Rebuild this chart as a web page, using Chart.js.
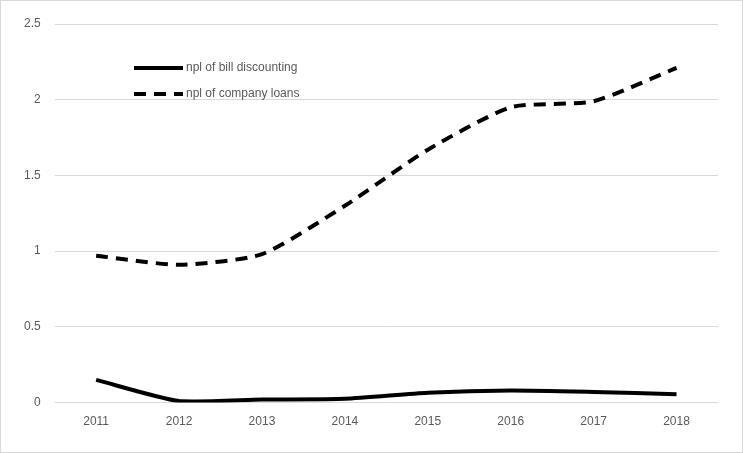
<!DOCTYPE html>
<html>
<head>
<meta charset="utf-8">
<script src="https://cdn.jsdelivr.net/npm/chart.js@4/dist/chart.umd.min.js"></script>
<style>
html,body{margin:0;padding:0;background:#fff;}
#wrap{position:relative;width:743px;height:453px;box-sizing:border-box;border:1px solid #d9d9d9;}
canvas{display:block;}
</style>
</head>
<body>
<div id="wrap"><canvas id="c" width="741" height="451"></canvas></div>
<script>
const categories = ["2011","2012","2013","2014","2015","2016","2017","2018"];
const billDiscounting = [0.15, 0.01, 0.02, 0.025, 0.065, 0.08, 0.07, 0.055];
const companyLoans = [0.97, 0.91, 0.98, 1.30, 1.67, 1.95, 1.99, 2.21];
const seriesNames = ["npl of bill discounting", "npl of company loans"];
const yTicks = [0, 0.5, 1, 1.5, 2, 2.5];

const FONT = "'Liberation Sans Narrow', 'Liberation Sans', sans-serif";
const TXT = "#595959";

const insideLegend = {
  id: 'insideLegend',
  afterDraw(chart) {
    const ctx = chart.ctx;
    const x0 = 133, lineLen = 49;
    const ys = [67, 93];
    chart.data.datasets.forEach((ds, i) => {
      const y = ys[i];
      ctx.save();
      ctx.strokeStyle = ds.borderColor;
      ctx.lineWidth = ds.borderWidth;
      ctx.setLineDash(ds.borderDash || []);
      ctx.lineCap = 'butt';
      ctx.beginPath();
      ctx.moveTo(x0, y);
      ctx.lineTo(x0 + lineLen, y);
      ctx.stroke();
      ctx.setLineDash([]);
      ctx.fillStyle = TXT;
      ctx.font = "12px " + FONT;
      ctx.textBaseline = 'middle';
      ctx.fillText(ds.label, x0 + lineLen + 3, y);
      ctx.restore();
    });
  }
};

new Chart(document.getElementById('c'), {
  type: 'line',
  data: {
    labels: categories,
    datasets: [
      { label: seriesNames[0], data: billDiscounting, borderColor: '#000', borderWidth: 4,
        pointRadius: 0, tension: 0.2, fill: false },
      { label: seriesNames[1], data: companyLoans, borderColor: '#000', borderWidth: 4,
        borderDash: [12, 8], pointRadius: 0, tension: 0.2, fill: false }
    ]
  },
  options: {
    responsive: false,
    animation: false,
    layout: { padding: { top: 23, right: 24, left: 9, bottom: 19 } },
    plugins: { legend: { display: false }, tooltip: { enabled: false } },
    scales: {
      x: {
        offset: true,
        grid: { display: false },
        border: { display: false },
        ticks: { color: TXT, font: { family: FONT, size: 12 }, padding: 4 }
      },
      y: {
        min: 0, max: 2.5,
        afterBuildTicks(axis) { axis.ticks = yTicks.map(v => ({ value: v })); },
        grid: { color: '#d9d9d9', lineWidth: 1, drawTicks: false },
        border: { display: false },
        ticks: { color: TXT, font: { family: FONT, size: 12 }, padding: 14,
                 callback: v => String(v) }
      }
    }
  },
  plugins: [insideLegend]
});
</script>
</body>
</html>
